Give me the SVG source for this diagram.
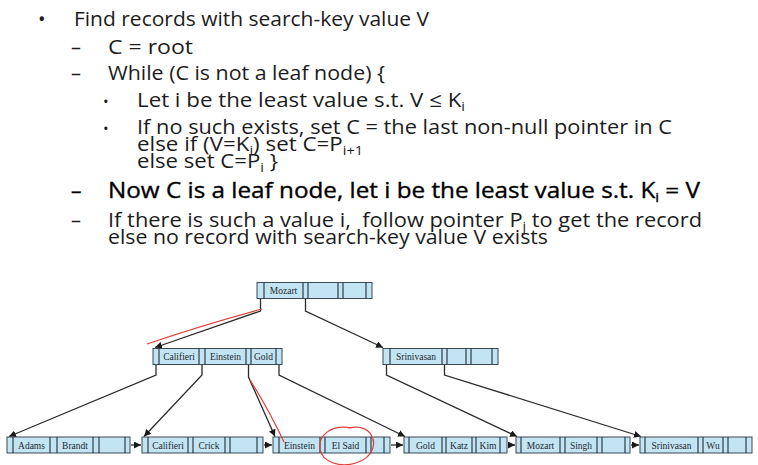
<svg xmlns="http://www.w3.org/2000/svg" width="758" height="465" viewBox="0 0 758 465">
<style>
.t{font-family:"Open Sans","Noto Sans","DejaVu Sans",sans-serif;font-size:20px;fill:#1c1c1c}
.tb{font-family:"Open Sans","Noto Sans","DejaVu Sans",sans-serif;font-size:21px;fill:#000;stroke:#000;stroke-width:0.35}
.sub{font-size:13px}
.nd{fill:#c3e4f3;stroke:#3a4b55;stroke-width:1}
.sep{stroke:#2f3f49;stroke-width:1.2}
.k{font-family:"Liberation Serif","Times New Roman",serif;font-size:9.5px;fill:#1e2a30;text-anchor:middle}
.cn{fill:none;stroke:#2c2c2c;stroke-width:1.3}
.red{fill:none;stroke:#e0403a;stroke-width:1.2}
</style>
<defs>
<marker id="ah" viewBox="0 0 10 10" refX="10" refY="5" markerWidth="7" markerHeight="7" markerUnits="userSpaceOnUse" orient="auto">
<path d="M0,0 L10,5 L0,10 z" fill="#1a1a1a"/>
</marker>
</defs>
<rect width="758" height="465" fill="#ffffff"/>

<g id="text">
<text class="t" x="38" y="26">•</text>
<text class="t" x="74" y="26" textLength="355" lengthAdjust="spacingAndGlyphs">Find records with search-key value V</text>
<text class="t" x="71" y="54">–</text>
<text class="t" x="108" y="54" textLength="85" lengthAdjust="spacingAndGlyphs">C = root</text>
<text class="t" x="71" y="80">–</text>
<text class="t" x="108" y="80" textLength="277" lengthAdjust="spacingAndGlyphs">While (C is not a leaf node) {</text>
<text class="t" x="103" y="107" style="font-size:15px">•</text>
<text class="t" x="137" y="107" textLength="328" lengthAdjust="spacingAndGlyphs">Let i be the least value s.t. V ≤ K<tspan class="sub" dy="4">i</tspan></text>
<text class="t" x="103" y="134" style="font-size:15px">•</text>
<text class="t" x="137" y="134" textLength="535" lengthAdjust="spacingAndGlyphs">If no such exists, set C = the last non-null pointer in C</text>
<text class="t" x="137" y="151" textLength="226" lengthAdjust="spacingAndGlyphs">else if (V=K<tspan class="sub" dy="4">i</tspan><tspan dy="-4">) set C=P</tspan><tspan class="sub" dy="4">i+1</tspan></text>
<text class="t" x="137" y="168" textLength="141" lengthAdjust="spacingAndGlyphs">else set C=P<tspan class="sub" dy="4">i</tspan><tspan dy="-4"> }</tspan></text>
<text class="tb" x="71" y="198">–</text>
<text class="tb" x="108" y="198" textLength="592" lengthAdjust="spacingAndGlyphs">Now C is a leaf node, let i be the least value s.t. K<tspan class="sub" dy="4">i</tspan><tspan dy="-4"> = V</tspan></text>
<text class="t" x="71" y="227">–</text>
<text class="t" x="108" y="227" textLength="594" lengthAdjust="spacingAndGlyphs">If there is such a value i,&#160; follow pointer P<tspan class="sub" dy="4">j</tspan><tspan dy="-4"> to get the record</tspan></text>
<text class="t" x="108" y="244" textLength="440" lengthAdjust="spacingAndGlyphs">else no record with search-key value V exists</text>
</g>

<g id="connectors">
<path class="cn" d="M260.5,298 V311 L155,347.5" marker-end="url(#ah)"/>
<path class="cn" d="M305.5,298 V311 L383,347.5" marker-end="url(#ah)"/>
<path class="cn" d="M156,364.5 V375 L9,436.5" marker-end="url(#ah)"/>
<path class="cn" d="M202,364.5 V375 L144,436.5" marker-end="url(#ah)"/>
<path class="cn" d="M248.5,364.5 V377 L275,436.5" marker-end="url(#ah)"/>
<path class="cn" d="M279,364.5 V375 L405,436.5" marker-end="url(#ah)"/>
<path class="cn" d="M386.5,364.5 V375 L517,436.5" marker-end="url(#ah)"/>
<path class="cn" d="M444.5,364.5 V375 L641,436.5" marker-end="url(#ah)"/>
<path class="cn" d="M131,445 H141" marker-end="url(#ah)"/>
<path class="cn" d="M264,445 H272" marker-end="url(#ah)"/>
<path class="cn" d="M391,445 H403" marker-end="url(#ah)"/>
<path class="cn" d="M508,445 H515" marker-end="url(#ah)"/>
<path class="cn" d="M631,445 H639" marker-end="url(#ah)"/>
</g>

<g id="root">
<rect class="nd" x="257" y="282.5" width="115" height="16"/>
<path class="sep" d="M264,282.5v16M303,282.5v16M308,282.5v16M338,282.5v16M343,282.5v16M366,282.5v16"/>
<text class="k" x="283.5" y="294">Mozart</text>
</g>

<g id="inner-left">
<rect class="nd" x="153" y="348.5" width="129" height="16"/>
<path class="sep" d="M159,348.5v16M199,348.5v16M205,348.5v16M246,348.5v16M251,348.5v16M276,348.5v16"/>
<text class="k" x="179" y="360">Califieri</text>
<text class="k" x="225.5" y="360">Einstein</text>
<text class="k" x="263.5" y="360">Gold</text>
</g>

<g id="inner-right">
<rect class="nd" x="383" y="348.5" width="115" height="16"/>
<path class="sep" d="M390,348.5v16M442,348.5v16M447,348.5v16M466,348.5v16M471,348.5v16M492,348.5v16"/>
<text class="k" x="416" y="360">Srinivasan</text>
</g>

<g id="leaf1">
<rect class="nd" x="7" y="437" width="123" height="16"/>
<path class="sep" d="M13,437v16M50,437v16M57,437v16M93,437v16M99,437v16M125,437v16"/>
<text class="k" x="31.5" y="448.5">Adams</text>
<text class="k" x="75" y="448.5">Brandt</text>
</g>

<g id="leaf2">
<rect class="nd" x="142" y="437" width="121" height="16"/>
<path class="sep" d="M148,437v16M188,437v16M193,437v16M225,437v16M230,437v16M257,437v16"/>
<text class="k" x="168" y="448.5">Califieri</text>
<text class="k" x="209" y="448.5">Crick</text>
</g>

<g id="leaf3">
<rect class="nd" x="273" y="437" width="117" height="16"/>
<path class="sep" d="M279,437v16M320,437v16M325,437v16M366,437v16M371,437v16M384,437v16"/>
<text class="k" x="299.5" y="448.5">Einstein</text>
<text class="k" x="345.5" y="448.5">El Said</text>
</g>

<g id="leaf4">
<rect class="nd" x="404" y="437" width="103" height="16"/>
<path class="sep" d="M409,437v16M442,437v16M446,437v16M472,437v16M476,437v16M500,437v16"/>
<text class="k" x="425.5" y="448.5">Gold</text>
<text class="k" x="459" y="448.5">Katz</text>
<text class="k" x="488" y="448.5">Kim</text>
</g>

<g id="leaf5">
<rect class="nd" x="516" y="437" width="114" height="16"/>
<path class="sep" d="M521,437v16M560,437v16M565,437v16M597,437v16M602,437v16M625,437v16"/>
<text class="k" x="540.5" y="448.5">Mozart</text>
<text class="k" x="581" y="448.5">Singh</text>
</g>

<g id="leaf6">
<rect class="nd" x="640" y="437" width="112" height="16"/>
<path class="sep" d="M645,437v16M698,437v16M703,437v16M723,437v16M728,437v16M746,437v16"/>
<text class="k" x="671.5" y="448.5">Srinivasan</text>
<text class="k" x="713" y="448.5">Wu</text>
</g>

<g id="annotations">
<path class="red" d="M262,309 Q200,326 147,344"/>
<path class="red" d="M250,380 Q268,408 284,442"/>
<path class="red" d="M352,428 C330,424 318,436 320,449 C322,462 340,468 356,463 C372,458 378,444 370,433 C365,427 357,426 348,428"/>
</g>
</svg>
